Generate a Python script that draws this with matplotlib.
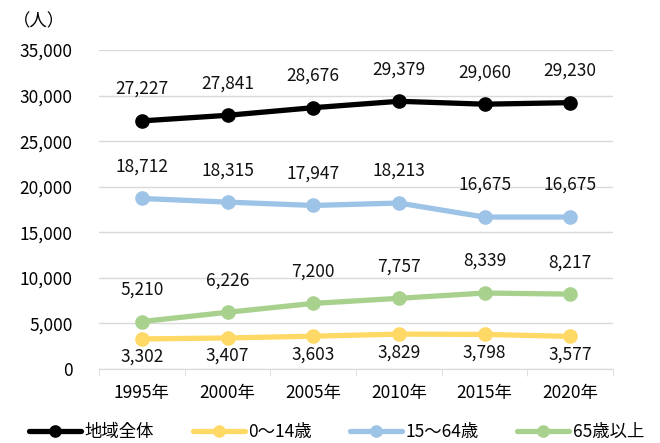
import matplotlib
matplotlib.use("Agg")
import matplotlib.pyplot as plt
from matplotlib.ticker import FuncFormatter

plt.rcParams['font.family'] = ['Noto Sans CJK JP', 'DejaVu Sans']

years = ['1995年', '2000年', '2005年', '2010年', '2015年', '2020年']
total = [27227, 27841, 28676, 29379, 29060, 29230]
age_0_14 = [3302, 3407, 3603, 3829, 3798, 3577]
age_15_64 = [18712, 18315, 17947, 18213, 16675, 16675]
age_65 = [5210, 6226, 7200, 7757, 8339, 8217]

# name, values, colour, label offset (points)
series = [
    ('地域全体', total, '#000000', 23),
    ('0～14歳', age_0_14, '#FFD966', -13),
    ('15～64歳', age_15_64, '#9DC3E6', 23),
    ('65歳以上', age_65, '#A9D18E', 23),
]

fs = 12.5
fig = plt.figure(figsize=(6.6, 4.43), dpi=100)
ax = fig.add_axes([0.15, 0.167, 0.779, 0.72])

x = range(len(years))
for name, vals, col, off in series:
    ax.plot(x, vals, color=col, lw=3.8, marker='o', ms=9.5, label=name,
            solid_capstyle='round', zorder=3)
    for xi, v in zip(x, vals):
        ax.annotate(f'{v:,}', (xi, v), xytext=(0, off), textcoords='offset points',
                    ha='center', va='center', fontsize=fs, color='#111111')

ax.set_xlim(-0.5, len(years) - 0.5)
ax.set_ylim(0, 35000)
ax.set_yticks(range(0, 35001, 5000))
ax.yaxis.set_major_formatter(FuncFormatter(lambda v, p: f'{int(v):,}'))
ax.set_xticks(list(x))
ax.set_xticklabels(years)
ax.set_xticks([i + 0.5 for i in range(-1, len(years))], minor=True)
ax.tick_params(axis='x', which='major', length=0, pad=11, labelsize=fs)
ax.tick_params(axis='x', which='minor', length=5, color='#D9D9D9')
ax.tick_params(axis='y', length=0, pad=19, labelsize=fs)

ax.grid(axis='y', color='#D9D9D9', lw=1)
ax.set_axisbelow(True)
for s in ['top', 'right', 'left']:
    ax.spines[s].set_visible(False)
ax.spines['bottom'].set_color('#D9D9D9')

fig.text(0.02, 0.952, '（人）', fontsize=fs, va='center')

fig.legend(loc='center', bbox_to_anchor=(0.51, 0.025), ncol=4, frameon=False,
           fontsize=fs, handlelength=3.0, columnspacing=2.2, handletextpad=0.2,
           markerscale=0.85)

fig.savefig('out.png', dpi=100)
